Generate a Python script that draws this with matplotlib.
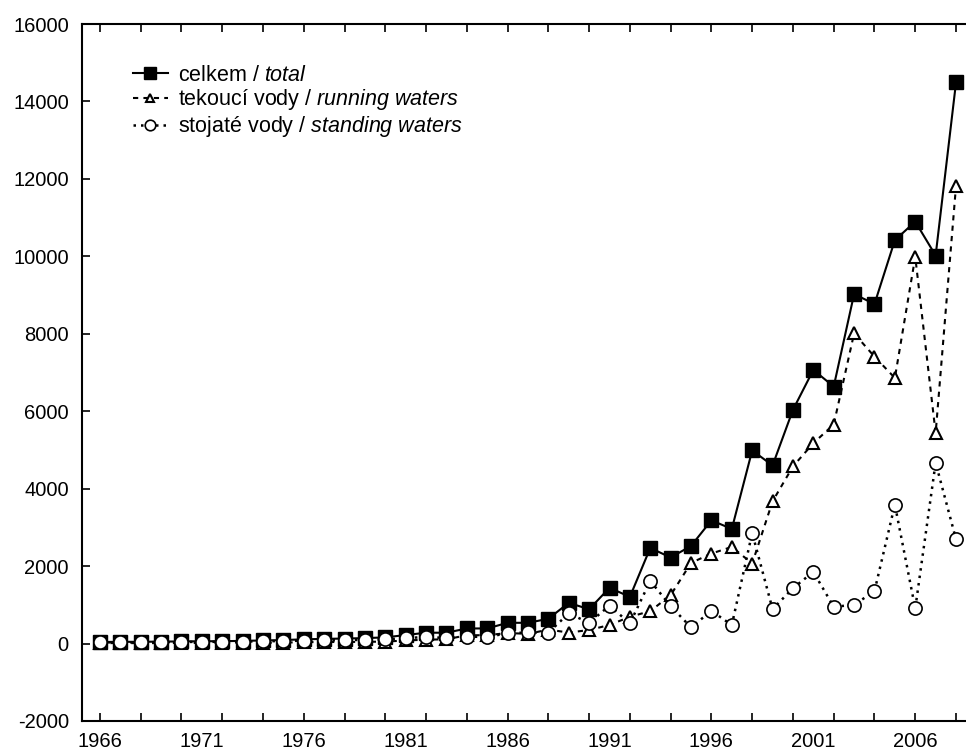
import matplotlib
matplotlib.use("Agg")
import matplotlib.pyplot as plt
from matplotlib.ticker import FixedLocator, NullFormatter

plt.rcParams["font.family"] = ["Liberation Sans", "DejaVu Sans"]
plt.rcParams["mathtext.fontset"] = "custom"
plt.rcParams["mathtext.rm"] = "Liberation Sans"
plt.rcParams["mathtext.it"] = "Liberation Sans:italic"

years = list(range(1966, 2009))

total = [40, 45, 45, 50, 55, 60, 60, 70, 80, 90, 110, 120, 130, 140, 160,
         220, 280, 280, 390, 390, 536, 536, 640, 1052, 885, 1440, 1206,
         2469, 2222, 2521, 3183, 2959, 4987, 4600, 6036, 7067, 6637,
         9026, 8768, 10418, 10897, 10021, 14490]

running = [10, 13, 10, 12, 15, 15, 15, 20, 20, 25, 35, 40, 40, 45, 50,
           80, 100, 110, 215, 215, 273, 250, 360, 284, 350, 480, 691,
           838, 1250, 2083, 2325, 2495, 2067, 3673, 4575, 5175, 5657,
           8010, 7410, 6860, 9987, 5433, 11817]

standing = [30, 32, 35, 38, 40, 45, 45, 50, 60, 65, 75, 80, 90, 95, 110,
            135, 175, 140, 175, 175, 263, 289, 284, 778, 536, 980, 520,
            1619, 966, 418, 845, 477, 2856, 889, 1430, 1851, 949,
            1000, 1353, 3587, 907, 4670, 2693]

label_years = [1966, 1971, 1976, 1981, 1986, 1991, 1996, 2001, 2006]
y_ticks = list(range(-2000, 16001, 2000))

fig = plt.figure(figsize=(9.66, 7.53), dpi=100)
ax = fig.add_axes([0.0849, 0.0425, 0.9151, 0.9256])

ax.plot(years, total, color="black", linestyle="-", linewidth=1.5,
        marker="s", markersize=10, markerfacecolor="black",
        markeredgecolor="black", zorder=2,
        label=r"celkem / $\mathit{total}$")
ax.plot(years, running, color="black", linestyle=(0, (2.5, 2.5)), linewidth=1.5,
        marker="^", markersize=8, markerfacecolor="white",
        markeredgecolor="black", markeredgewidth=1.5, zorder=3,
        label=r"tekoucí vody / $\mathit{running\ waters}$")
ax.plot(years, standing, color="black", linestyle=(0, (1, 2)), linewidth=1.8,
        marker="o", markersize=9.5, markerfacecolor="white",
        markeredgecolor="black", markeredgewidth=1.2, zorder=4,
        label=r"stojaté vody / $\mathit{standing\ waters}$")

ax.set_xlim(1965.12, 2008.49)
ax.set_ylim(-2000, 16000)

# labels every 5 years (no tick mark), tick marks on even years
ax.xaxis.remove_overlapping_locs = False
ax.xaxis.set_major_locator(FixedLocator(label_years))
ax.set_xticklabels([str(y) for y in label_years])
ax.xaxis.set_minor_locator(FixedLocator(list(range(1966, 2009, 2))))
ax.xaxis.set_minor_formatter(NullFormatter())
ax.tick_params(axis="x", which="major", length=0, pad=8, labelsize=14.5)
ax.tick_params(axis="x", which="minor", direction="in", length=6, width=1.2,
               top=True, bottom=True)

ax.set_yticks(y_ticks)
ax.set_yticklabels([str(v) for v in y_ticks])
ax.tick_params(axis="y", direction="in", length=6, width=1.2, pad=9.5,
               labelsize=14.5)

for side in ["left", "bottom", "top"]:
    ax.spines[side].set_linewidth(1.5)
ax.spines["right"].set_visible(False)

leg = ax.legend(loc="upper left", bbox_to_anchor=(0.048, 0.954), frameon=False,
                fontsize=15.5, handlelength=1.6, handletextpad=0.5,
                labelspacing=0.08, borderaxespad=0, markerscale=0.8)

fig.savefig("out.png", dpi=100)
